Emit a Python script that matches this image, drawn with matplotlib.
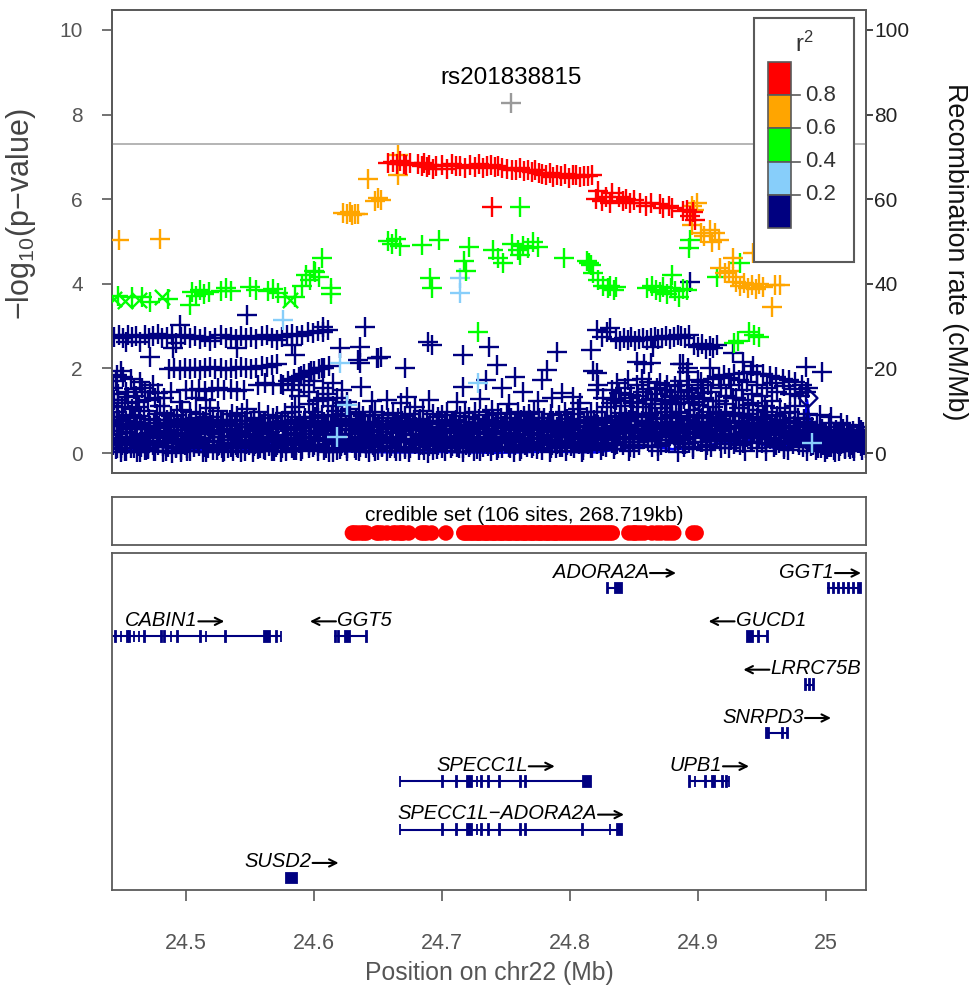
import matplotlib
matplotlib.use('Agg')
import matplotlib.pyplot as plt
from matplotlib.patches import Rectangle

plt.rcParams['font.family'] = ['Liberation Sans', 'DejaVu Sans']
plt.rcParams['mathtext.fontset'] = 'custom'
plt.rcParams['mathtext.rm'] = 'Liberation Sans'
plt.rcParams['mathtext.it'] = 'Liberation Sans:italic'

# ---------------- data ----------------
XLIM = (24.4422, 25.0312)
top_snp = ('rs201838815', 24.754, 8.27)
sig_line = 7.3

red_pts = [
    (24.658, 6.85), (24.662, 6.88), (24.665, 6.82), (24.667, 6.90), (24.670, 6.84), (24.672, 6.80), (24.675, 6.86),
    (24.681, 6.82), (24.684, 6.78), (24.686, 6.85), (24.688, 6.75), (24.690, 6.80), (24.693, 6.72), (24.695, 6.78),
    (24.700, 6.80), (24.704, 6.72), (24.708, 6.84), (24.711, 6.78),
    (24.714, 6.78), (24.718, 6.74), (24.722, 6.80), (24.726, 6.76), (24.729, 6.82), (24.732, 6.74), (24.735, 6.78),
    (24.738, 6.80), (24.741, 6.76), (24.744, 6.79), (24.747, 6.74),
    (24.751, 6.72), (24.755, 6.70), (24.758, 6.68), (24.761, 6.74), (24.764, 6.66), (24.767, 6.70), (24.770, 6.64),
    (24.773, 6.68), (24.776, 6.62),
    (24.778, 6.60), (24.781, 6.56), (24.784, 6.62), (24.787, 6.52), (24.790, 6.58), (24.793, 6.55), (24.796, 6.60),
    (24.799, 6.50), (24.802, 6.56), (24.805, 6.58), (24.808, 6.52), (24.811, 6.55), (24.814, 6.54), (24.817, 6.56),
    (24.739, 5.82),
    (24.820, 6.00), (24.822, 6.20), (24.825, 5.95), (24.828, 6.05), (24.831, 5.90), (24.833, 6.15),
    (24.838, 6.05), (24.841, 5.95), (24.844, 6.00), (24.847, 5.90), (24.850, 5.98),
    (24.855, 5.90), (24.859, 5.85), (24.863, 5.92),
    (24.870, 5.88), (24.873, 5.78), (24.877, 5.84), (24.880, 5.80),
    (24.888, 5.72), (24.891, 5.75), (24.894, 5.60), (24.896, 5.70), (24.898, 5.50),
]

orange_pts = [
    (24.448, 5.04), (24.480, 5.06), (24.623, 5.68), (24.626, 5.65), (24.628, 5.70), (24.630, 5.62),
    (24.632, 5.66), (24.634, 5.64), (24.642, 6.48), (24.648, 5.96), (24.652, 5.98), (24.650, 6.02),
    (24.666, 7.04), (24.666, 6.57), (24.895, 5.85), (24.897, 5.75), (24.899, 5.92), (24.895, 5.39),
    (24.902, 5.20), (24.905, 5.13), (24.909, 5.27), (24.913, 5.20), (24.916, 5.04), (24.911, 4.99),
    (24.927, 4.61), (24.943, 4.73), (24.917, 4.37), (24.921, 4.25), (24.924, 4.30), (24.927, 4.16),
    (24.930, 4.05), (24.933, 3.95), (24.936, 4.02), (24.939, 3.90), (24.942, 3.98), (24.945, 3.88),
    (24.948, 4.00), (24.951, 3.92), (24.960, 3.97), (24.964, 3.97), (24.958, 3.45),
]

green_pts = [
    (24.447, 3.72), (24.458, 3.68), (24.466, 3.70), (24.472, 3.58), (24.486, 3.64),
    (24.503, 3.50), (24.505, 3.80), (24.508, 3.72), (24.511, 3.85), (24.514, 3.76), (24.518, 3.80),
    (24.527, 3.82), (24.531, 3.90), (24.535, 3.84), (24.550, 3.92), (24.555, 3.86),
    (24.564, 3.82), (24.568, 3.88), (24.572, 3.78), (24.577, 3.68), (24.585, 3.70),
    (24.591, 3.95), (24.594, 4.20), (24.597, 4.10), (24.600, 4.30), (24.601, 4.28), (24.604, 4.15),
    (24.606, 4.60), (24.613, 3.90), (24.613, 3.75),
    (24.658, 5.02), (24.661, 4.95), (24.664, 5.05), (24.667, 4.90), (24.684, 4.92), (24.698, 5.04),
    (24.691, 4.14), (24.692, 3.90), (24.721, 4.87), (24.717, 4.55), (24.719, 4.30),
    (24.740, 4.80), (24.744, 4.60), (24.748, 4.50),
    (24.755, 4.95), (24.759, 4.80), (24.763, 4.90), (24.767, 4.85), (24.771, 5.00), (24.775, 4.88),
    (24.761, 5.82), (24.761, 4.68), (24.795, 4.60), (24.813, 4.55), (24.816, 4.45), (24.815, 4.50),
    (24.818, 4.25), (24.822, 4.10), (24.826, 3.95), (24.830, 3.90),
    (24.831, 3.95), (24.834, 3.85), (24.836, 3.92),
    (24.860, 3.90), (24.864, 3.95), (24.867, 3.85), (24.870, 3.80), (24.873, 3.92), (24.876, 3.75),
    (24.879, 3.90), (24.882, 3.82), (24.885, 3.70), (24.888, 3.88), (24.891, 3.85), (24.880, 4.20),
    (24.894, 5.03), (24.893, 4.85), (24.933, 4.50), (24.915, 4.15),
    (24.928, 2.60), (24.931, 2.65), (24.940, 2.85), (24.944, 2.80), (24.948, 2.75), (24.728, 2.86),
]
green_x_pts = [(24.444, 3.65), (24.452, 3.60), (24.463, 3.62), (24.481, 3.70), (24.581, 3.62)]

lblue_pts = [(24.714, 4.14), (24.714, 3.78), (24.576, 3.15), (24.620, 2.13), (24.626, 1.13),
             (24.618, 0.38), (24.728, 1.65), (24.989, 0.24)]

# navy, r2 < 0.2 : bands and scattered SNPs above the dense floor
navy_band_pos = [24.444, 24.448, 24.451, 24.455, 24.458, 24.461, 24.464, 24.468, 24.471, 24.474,
                 24.478, 24.481, 24.485, 24.489, 24.492, 24.496, 24.499, 24.503, 24.507, 24.511,
                 24.515, 24.519, 24.523, 24.527, 24.531, 24.535, 24.539, 24.543, 24.547, 24.551,
                 24.555, 24.559, 24.563, 24.567, 24.571, 24.575, 24.579, 24.583, 24.587, 24.591,
                 24.595, 24.599, 24.603, 24.607, 24.611,
                 24.487, 24.491, 24.495, 24.499, 24.503, 24.507, 24.511, 24.515, 24.519, 24.523,
                 24.527, 24.531, 24.535, 24.539, 24.543, 24.547, 24.551, 24.555, 24.559, 24.563,
                 24.567, 24.571,
                 24.576, 24.580, 24.584, 24.588, 24.590, 24.592, 24.596, 24.598, 24.600, 24.604,
                 24.606, 24.608, 24.612,
                 24.500, 24.505, 24.510, 24.515, 24.520, 24.525, 24.530, 24.535, 24.540, 24.545,
                 24.556, 24.562, 24.568, 24.574,
                 24.836, 24.839, 24.842, 24.845, 24.848, 24.851, 24.854, 24.857, 24.860, 24.863,
                 24.866, 24.869, 24.872, 24.875, 24.878, 24.881, 24.884, 24.887, 24.890, 24.893,
                 24.897, 24.900, 24.903, 24.906, 24.909, 24.912, 24.915,
                 24.941, 24.946, 24.951, 24.956, 24.961, 24.966, 24.971, 24.976, 24.981, 24.986]
navy_band_logp = [2.75, 2.78, 2.72, 2.80, 2.74, 2.77, 2.62, 2.79, 2.73, 2.76,
                  2.81, 2.71, 2.75, 2.78, 2.60, 2.74, 2.79, 2.72, 2.76, 2.70,
                  2.75, 2.66, 2.73, 2.78, 2.71, 2.74, 2.69, 2.77, 2.72, 2.75,
                  2.70, 2.76, 2.80, 2.73, 2.68, 2.74, 2.78, 2.82, 2.76, 2.80,
                  2.85, 2.83, 2.88, 2.86, 2.90,
                  1.98, 2.00, 1.97, 2.02, 1.99, 2.01, 1.96, 2.00, 2.03, 1.98,
                  2.00, 1.97, 2.01, 1.99, 2.04, 2.00, 1.98, 2.02, 2.05, 2.03,
                  2.08, 2.10,
                  1.62, 1.70, 1.75, 1.80, 1.82, 1.86, 1.90, 1.93, 1.95, 1.98,
                  2.00, 2.00, 2.05,
                  1.50, 1.48, 1.52, 1.47, 1.50, 1.53, 1.49, 1.51, 1.46, 1.50,
                  1.62, 1.66, 1.60, 1.64,
                  2.70, 2.65, 2.72, 2.68, 2.74, 2.66, 2.70, 2.73, 2.68, 2.71,
                  2.75, 2.69, 2.72, 2.77, 2.70, 2.74, 2.80, 2.76, 2.72, 2.78,
                  2.55, 2.50, 2.58, 2.45, 2.52, 2.48, 2.55,
                  1.92, 1.88, 1.86, 1.82, 1.80, 1.76, 1.72, 1.68, 1.62, 1.55]

navy_scatter_pts = [
    (24.548, 3.26), (24.495, 3.03), (24.607, 2.98), (24.472, 2.27), (24.490, 2.48), (24.540, 2.48),
    (24.585, 2.32), (24.583, 2.55), (24.453, 2.62),
    (24.640, 2.98), (24.649, 2.24), (24.652, 2.26), (24.671, 2.00), (24.689, 2.62), (24.692, 2.55),
    (24.716, 2.32), (24.716, 1.56), (24.737, 2.50), (24.743, 2.08), (24.734, 1.73), (24.757, 1.80),
    (24.747, 1.54), (24.778, 1.73), (24.782, 1.96), (24.790, 2.39), (24.763, 1.44), (24.794, 1.42),
    (24.816, 2.43), (24.821, 2.90), (24.825, 2.75), (24.829, 2.85), (24.821, 1.90), (24.821, 1.50),
    (24.620, 2.48), (24.634, 2.20), (24.636, 2.50), (24.673, 1.33), (24.650, 2.25), (24.636, 2.12),
    (24.637, 1.56), (24.657, 1.25), (24.802, 1.33), (24.818, 1.95), (24.822, 1.60), (24.826, 1.30),
    (24.831, 2.95), (24.865, 2.50), (24.852, 2.15), (24.858, 2.10), (24.863, 2.12), (24.886, 2.10),
    (24.892, 2.00), (24.909, 2.00), (24.900, 1.73), (24.927, 2.36), (24.935, 2.15), (24.943, 2.05),
    (24.984, 2.04), (24.997, 1.92), (24.995, 0.90), (24.894, 4.04), (24.891, 1.92), (24.888, 2.10),
    (24.446, 1.85), (24.451, 1.80), (24.464, 1.68), (24.459, 1.52), (24.447, 1.40), (24.455, 1.32),
    (24.468, 1.45), (24.472, 1.44), (24.444, 1.25), (24.462, 1.20), (24.476, 1.30), (24.450, 1.10),
    (24.480, 1.12), (24.495, 1.20), (24.519, 1.06), (24.508, 1.30), (24.516, 1.25),
    (24.583, 1.50), (24.588, 1.35), (24.592, 1.60), (24.596, 1.45), (24.600, 1.70), (24.603, 1.25),
    (24.607, 1.55), (24.611, 1.40), (24.615, 1.65), (24.618, 1.30), (24.622, 1.50), (24.626, 1.20),
    (24.833, 1.50), (24.838, 1.42), (24.843, 1.55), (24.848, 1.38), (24.852, 1.60), (24.857, 1.45),
    (24.861, 1.52), (24.866, 1.40), (24.870, 1.65), (24.874, 1.48), (24.878, 1.35), (24.882, 1.58),
    (24.887, 1.44), (24.891, 1.50), (24.895, 1.36), (24.900, 1.55), (24.904, 1.42), (24.908, 1.62),
    (24.912, 1.75), (24.916, 1.80), (24.920, 1.85), (24.924, 1.78), (24.928, 1.88), (24.932, 1.72),
    (24.936, 1.90), (24.645, 1.22), (24.668, 1.18), (24.690, 1.25), (24.712, 1.20), (24.730, 1.28),
    (24.752, 1.15), (24.775, 1.22), (24.786, 1.30), (24.808, 1.18), (25.004, 0.85), (25.012, 0.70),
    (24.834, 1.28), (24.837, 1.65), (24.840, 1.22), (24.845, 1.72), (24.849, 1.18), (24.853, 1.35),
    (24.856, 1.75), (24.859, 1.25), (24.862, 1.68), (24.864, 1.15), (24.868, 1.55), (24.872, 1.25),
    (24.876, 1.62), (24.880, 1.20), (24.884, 1.45), (24.886, 1.70), (24.889, 1.28), (24.893, 1.62),
    (24.897, 1.20), (24.902, 1.68), (24.905, 1.30), (24.910, 1.45), (24.914, 1.22), (24.918, 1.55),
    (24.922, 1.35), (24.926, 1.60), (24.930, 1.30), (24.934, 1.50), (24.938, 1.68), (24.942, 1.40),
    (24.946, 1.62), (24.950, 1.35), (24.954, 1.55), (24.958, 1.65), (24.962, 1.45), (24.967, 1.58),
    (24.972, 1.40), (24.976, 1.52), (24.980, 1.35), (24.984, 1.45),
    (24.443, 1.55), (24.445, 1.70), (24.449, 1.95), (24.453, 1.45), (24.457, 1.75), (24.461, 1.35),
    (24.466, 1.55), (24.470, 1.25), (24.474, 1.60), (24.478, 1.42), (24.483, 1.30), (24.488, 1.45),
]
navy_diamond_pts = [(24.899, 1.25), (24.986, 1.30), (25.023, 0.42)]

# dense floor of weakly associated SNPs (two SNPs per listed kb position)
navy_low_pos = [
    24.442, 24.443, 24.444, 24.445, 24.446, 24.446, 24.447, 24.448, 24.449, 24.449,
    24.450, 24.451, 24.452, 24.453, 24.453, 24.454, 24.456, 24.457, 24.458, 24.459,
    24.460, 24.461, 24.462, 24.463, 24.464, 24.465, 24.466, 24.467, 24.468, 24.469,
    24.470, 24.471, 24.471, 24.472, 24.474, 24.475, 24.476, 24.477, 24.478, 24.479,
    24.480, 24.482, 24.483, 24.484, 24.485, 24.485, 24.486, 24.487, 24.488, 24.489,
    24.490, 24.491, 24.492, 24.493, 24.494, 24.496, 24.496, 24.497, 24.498, 24.499,
    24.500, 24.501, 24.502, 24.503, 24.503, 24.504, 24.506, 24.507, 24.508, 24.509,
    24.510, 24.511, 24.512, 24.513, 24.514, 24.515, 24.516, 24.517, 24.518, 24.519,
    24.520, 24.521, 24.521, 24.522, 24.524, 24.525, 24.526, 24.527, 24.528, 24.529,
    24.530, 24.532, 24.533, 24.534, 24.535, 24.535, 24.536, 24.537, 24.538, 24.539,
    24.540, 24.541, 24.542, 24.543, 24.544, 24.546, 24.546, 24.547, 24.548, 24.549,
    24.550, 24.551, 24.552, 24.553, 24.553, 24.554, 24.556, 24.557, 24.558, 24.559,
    24.560, 24.561, 24.562, 24.563, 24.564, 24.565, 24.566, 24.567, 24.568, 24.569,
    24.570, 24.571, 24.571, 24.572, 24.574, 24.575, 24.576, 24.577, 24.578, 24.579,
    24.580, 24.582, 24.583, 24.584, 24.585, 24.585, 24.586, 24.587, 24.588, 24.589,
    24.590, 24.591, 24.592, 24.593, 24.594, 24.596, 24.596, 24.597, 24.598, 24.599,
    24.600, 24.601, 24.602, 24.603, 24.603, 24.604, 24.606, 24.607, 24.608, 24.609,
    24.610, 24.611, 24.612, 24.613, 24.614, 24.615, 24.616, 24.617, 24.618, 24.619,
    24.620, 24.621, 24.621, 24.622, 24.624, 24.625, 24.626, 24.627, 24.628, 24.629,
    24.630, 24.632, 24.633, 24.634, 24.635, 24.635, 24.636, 24.637, 24.638, 24.639,
    24.640, 24.641, 24.642, 24.643, 24.644, 24.646, 24.646, 24.647, 24.648, 24.649,
    24.650, 24.651, 24.652, 24.653, 24.653, 24.654, 24.656, 24.657, 24.658, 24.659,
    24.660, 24.661, 24.662, 24.663, 24.664, 24.665, 24.666, 24.667, 24.668, 24.669,
    24.670, 24.671, 24.671, 24.672, 24.674, 24.675, 24.676, 24.677, 24.678, 24.679,
    24.680, 24.682, 24.683, 24.684, 24.685, 24.685, 24.686, 24.687, 24.688, 24.689,
    24.690, 24.691, 24.692, 24.693, 24.694, 24.696, 24.696, 24.697, 24.698, 24.699,
    24.700, 24.701, 24.702, 24.703, 24.703, 24.704, 24.706, 24.707, 24.708, 24.709,
    24.710, 24.711, 24.712, 24.713, 24.714, 24.715, 24.716, 24.717, 24.718, 24.719,
    24.720, 24.721, 24.721, 24.722, 24.724, 24.725, 24.726, 24.727, 24.728, 24.729,
    24.730, 24.732, 24.733, 24.734, 24.735, 24.735, 24.736, 24.737, 24.738, 24.739,
    24.740, 24.741, 24.742, 24.743, 24.744, 24.746, 24.746, 24.747, 24.748, 24.749,
    24.750, 24.751, 24.752, 24.753, 24.753, 24.754, 24.756, 24.757, 24.758, 24.759,
    24.760, 24.761, 24.762, 24.763, 24.764, 24.765, 24.766, 24.767, 24.768, 24.769,
    24.770, 24.771, 24.771, 24.772, 24.774, 24.775, 24.776, 24.777, 24.778, 24.779,
    24.780, 24.782, 24.783, 24.784, 24.785, 24.785, 24.786, 24.787, 24.788, 24.789,
    24.790, 24.791, 24.792, 24.793, 24.794, 24.796, 24.796, 24.797, 24.798, 24.799,
    24.800, 24.801, 24.802, 24.803, 24.803, 24.804, 24.806, 24.807, 24.808, 24.809,
    24.810, 24.811, 24.812, 24.813, 24.814, 24.815, 24.816, 24.817, 24.818, 24.819,
    24.820, 24.821, 24.821, 24.822, 24.824, 24.825, 24.826, 24.827, 24.828, 24.829,
    24.830, 24.832, 24.833, 24.834, 24.835, 24.835, 24.836, 24.837, 24.838, 24.839,
    24.840, 24.841, 24.842, 24.843, 24.844, 24.846, 24.846, 24.847, 24.848, 24.849,
    24.850, 24.851, 24.852, 24.853, 24.853, 24.854, 24.856, 24.857, 24.858, 24.859,
    24.860, 24.861, 24.862, 24.863, 24.864, 24.865, 24.866, 24.867, 24.868, 24.869,
    24.870, 24.871, 24.871, 24.872, 24.874, 24.875, 24.876, 24.877, 24.878, 24.879,
    24.880, 24.882, 24.883, 24.884, 24.885, 24.885, 24.886, 24.887, 24.888, 24.889,
    24.890, 24.891, 24.892, 24.893, 24.894, 24.896, 24.896, 24.897, 24.898, 24.899,
    24.900, 24.901, 24.902, 24.903, 24.903, 24.904, 24.906, 24.907, 24.908, 24.909,
    24.910, 24.911, 24.912, 24.913, 24.914, 24.915, 24.916, 24.917, 24.918, 24.919,
    24.920, 24.921, 24.921, 24.922, 24.924, 24.925, 24.926, 24.927, 24.928, 24.929,
    24.930, 24.932, 24.933, 24.934, 24.935, 24.935, 24.936, 24.937, 24.938, 24.939,
    24.940, 24.941, 24.942, 24.943, 24.944, 24.946, 24.946, 24.947, 24.948, 24.949,
    24.950, 24.951, 24.952, 24.953, 24.953, 24.954, 24.956, 24.957, 24.958, 24.959,
    24.960, 24.961, 24.962, 24.963, 24.964, 24.965, 24.966, 24.967, 24.968, 24.969,
    24.970, 24.971, 24.971, 24.972, 24.974, 24.975, 24.976, 24.977, 24.978, 24.979,
    24.980, 24.982, 24.983, 24.984, 24.985, 24.985, 24.986, 24.987, 24.988, 24.989,
    24.990, 24.991, 24.992, 24.993, 24.994, 24.996, 24.996, 24.997, 24.998, 24.999,
    25.000, 25.001, 25.002, 25.003, 25.003, 25.004, 25.006, 25.007, 25.008, 25.009,
    25.010, 25.011, 25.012, 25.013, 25.014, 25.015, 25.016, 25.017, 25.018, 25.019,
    25.020, 25.021, 25.021, 25.022, 25.024, 25.025, 25.026, 25.027, 25.028, 25.029,
    25.030, 25.031,
]
navy_low_logp = [
    0.42, 1.12, 0.77, 0.25, 0.96, 0.13, 1.25, 0.34, 0.03, 0.69,
    0.19, 0.85, 1.18, 0.62, 0.05, 0.47, 0.91, 0.22, 1.05, 0.11,
    0.66, 0.27, 0.02, 1.10, 0.88, 0.15, 0.39, 0.99, 0.07, 0.45,
    0.09, 0.57, 0.81, 0.36, 0.18, 0.72, 0.04, 0.93, 0.29, 0.63,
    0.51, 0.16, 0.94, 0.06, 0.38, 0.79, 0.24, 0.61, 0.87, 0.01,
    0.33, 0.71, 0.12, 0.89, 0.47, 0.02, 0.64, 1.02, 0.21, 0.55,
    0.78, 0.05, 0.43, 0.97, 0.26, 0.68, 0.14, 0.52, 0.83, 0.31,
    0.17, 0.92, 0.58, 0.03, 0.74, 0.35, 0.86, 0.11, 0.49, 0.64,
    0.61, 0.28, 0.85, 0.44, 0.07, 0.99, 0.19, 0.73, 0.38, 0.02,
    0.04, 0.66, 0.31, 0.79, 0.15, 0.54, 0.92, 0.23, 0.69, 0.41,
    0.87, 0.12, 0.48, 0.25, 0.95, 0.06, 0.62, 0.37, 1.04, 0.18,
    0.29, 0.76, 0.03, 0.58, 0.84, 0.21, 0.45, 0.97, 0.11, 0.67,
    0.53, 0.09, 0.72, 0.36, 0.91, 0.16, 0.63, 0.05, 0.82, 0.27,
    0.14, 0.88, 0.41, 0.67, 0.02, 0.77, 0.32, 0.94, 0.22, 0.56,
    0.71, 0.24, 0.96, 0.08, 1.08, 0.47, 0.19, 0.61, 0.85, 0.35,
    0.06, 0.59, 0.28, 0.83, 0.44, 1.15, 0.13, 0.74, 0.39, 0.97,
    0.19, 0.85, 1.22, 0.62, 0.05, 0.47, 0.91, 1.30, 0.74, 0.11,
    0.66, 1.25, 0.02, 0.53, 0.88, 1.12, 0.39, 0.99, 0.07, 0.45,
    0.09, 0.57, 0.81, 1.18, 0.18, 0.72, 0.04, 0.93, 1.05, 0.63,
    0.45, 0.12, 0.78, 0.31, 0.96, 0.05, 0.62, 0.24, 0.87, 0.38,
    0.73, 0.21, 0.54, 0.02, 0.89, 0.36, 0.67, 0.14, 0.98, 0.43,
    0.08, 0.64, 0.33, 0.91, 0.17, 0.75, 0.49, 0.04, 0.82, 0.27,
    0.58, 0.23, 0.95, 0.11, 0.69, 0.38, 0.84, 0.06, 0.52, 0.76,
    0.31, 0.87, 0.14, 0.66, 0.03, 0.92, 0.42, 0.71, 0.25, 1.08,
    0.62, 0.07, 0.81, 0.35, 0.99, 0.18, 0.55, 0.29, 0.77, 0.01,
    0.16, 0.72, 0.44, 0.93, 0.26, 0.61, 0.09, 0.85, 0.37, 0.57,
    0.89, 0.34, 0.05, 0.67, 0.21, 0.96, 0.47, 0.13, 0.74, 0.39,
    0.27, 0.79, 0.52, 0.12, 0.88, 0.41, 0.02, 0.65, 0.94, 0.19,
    0.53, 0.15, 0.86, 0.38, 0.71, 0.06, 0.97, 0.28, 0.59, 0.81,
    0.04, 0.68, 0.24, 0.91, 0.45, 0.78, 0.17, 0.56, 0.33, 1.02,
    0.76, 0.29, 0.63, 0.08, 0.95, 0.35, 0.82, 0.11, 0.48, 0.69,
    0.37, 0.92, 0.14, 0.57, 0.26, 0.84, 0.03, 0.73, 0.44, 0.98,
    0.61, 0.05, 0.79, 0.32, 0.87, 0.19, 0.66, 0.42, 0.93, 0.24,
    0.13, 0.74, 0.46, 0.97, 0.09, 0.58, 0.83, 0.27, 0.69, 0.36,
    0.84, 0.31, 0.67, 0.02, 0.55, 0.92, 0.18, 0.77, 0.43, 0.11,
    0.22, 0.89, 0.39, 0.71, 0.14, 0.96, 0.51, 0.06, 0.81, 0.64,
    0.57, 0.16, 0.93, 0.45, 0.78, 0.27, 1.05, 0.34, 0.62, 0.03,
    0.08, 0.71, 0.35, 0.86, 0.22, 0.64, 0.97, 0.13, 0.49, 0.79,
    0.69, 0.25, 0.98, 0.41, 0.07, 0.83, 0.33, 0.74, 0.15, 1.10,
    0.31, 1.18, 0.62, 0.09, 0.87, 0.44, 1.26, 0.21, 0.73, 0.52,
    0.94, 0.18, 0.56, 1.12, 0.35, 0.79, 0.04, 1.31, 0.67, 0.26,
    0.12, 0.75, 1.21, 0.48, 0.93, 0.27, 0.64, 1.08, 0.36, 0.85,
    0.66, 0.29, 0.91, 1.28, 0.14, 0.57, 1.15, 0.42, 0.83, 0.05,
    0.38, 1.06, 0.19, 0.72, 1.24, 0.51, 0.97, 0.23, 0.61, 1.33,
    0.85, 0.41, 1.17, 0.03, 0.68, 0.95, 0.32, 1.27, 0.56, 0.14,
    0.21, 0.79, 0.47, 1.19, 0.88, 0.09, 0.63, 1.02, 0.35, 0.74,
    0.58, 1.13, 0.26, 0.84, 0.42, 1.29, 0.07, 0.69, 0.97, 0.31,
    0.15, 0.72, 1.09, 0.37, 0.93, 0.54, 1.22, 0.28, 0.81, 0.46,
    0.77, 0.34, 0.96, 1.16, 0.11, 0.65, 0.43, 1.31, 0.22, 0.89,
    0.44, 1.07, 0.18, 0.71, 1.25, 0.36, 0.92, 0.05, 0.59, 1.14,
    0.92, 0.27, 0.65, 1.19, 0.48, 0.83, 0.13, 1.02, 0.39, 0.71,
    0.23, 0.86, 1.11, 0.52, 0.04, 0.97, 0.34, 0.68, 1.24, 0.15,
    0.61, 0.19, 0.88, 0.42, 1.06, 0.29, 0.75, 0.09, 0.94, 0.53,
    0.08, 0.73, 0.37, 0.96, 0.21, 0.64, 1.12, 0.46, 0.82, 0.31,
    0.55, 0.14, 0.81, 0.33, 0.69, 0.06, 0.92, 0.27, 0.47, 0.62,
    0.18, 0.52, 0.07, 0.66, 0.29, 0.43, 0.11, 0.58, 0.36, 0.02,
    0.41, 0.09, 0.62, 0.25, 0.71, 0.14, 0.48, 0.03, 0.55, 0.32,
    0.06, 0.47, 0.21, 0.58, 0.34, 0.12, 0.66, 0.27, 0.44, 0.09,
    0.38, 0.13, 0.53, 0.05, 0.44, 0.24, 0.61, 0.17, 0.31, 0.49,
    0.28, 0.11,
]
navy_low2_logp = [
    0.52, 0.18, 0.71, 0.09, 0.44, 0.63, 0.27, 0.79, 0.35, 0.12,
    0.28, 0.66, 0.04, 0.49, 0.75, 0.21, 0.58, 0.13, 0.39, 0.82,
    0.73, 0.31, 0.56, 0.16, 0.02, 0.68, 0.43, 0.24, 0.61, 0.08,
    0.11, 0.47, 0.25, 0.64, 0.37, 0.06, 0.78, 0.53, 0.19, 0.42,
    0.59, 0.03, 0.36, 0.72, 0.23, 0.51, 0.14, 0.67, 0.46, 0.29,
    0.34, 0.77, 0.15, 0.41, 0.62, 0.26, 0.07, 0.55, 0.81, 0.18,
    0.48, 0.12, 0.69, 0.33, 0.05, 0.74, 0.22, 0.57, 0.38, 0.65,
    0.21, 0.59, 0.36, 0.76, 0.14, 0.45, 0.02, 0.63, 0.29, 0.52,
    0.66, 0.08, 0.47, 0.27, 0.71, 0.17, 0.54, 0.39, 0.11, 0.78,
    0.37, 0.73, 0.13, 0.56, 0.24, 0.64, 0.41, 0.06, 0.49, 0.19,
    0.14, 0.45, 0.68, 0.03, 0.52, 0.31, 0.77, 0.22, 0.61, 0.43,
    0.62, 0.25, 0.41, 0.79, 0.16, 0.57, 0.09, 0.34, 0.72, 0.48,
    0.39, 0.71, 0.08, 0.46, 0.27, 0.65, 0.51, 0.18, 0.59, 0.04,
    0.57, 0.19, 0.63, 0.32, 0.74, 0.11, 0.42, 0.68, 0.06, 0.36,
    0.26, 0.62, 0.13, 0.54, 0.35, 0.79, 0.07, 0.47, 0.23, 0.69,
    0.44, 0.09, 0.72, 0.28, 0.61, 0.18, 0.53, 0.36, 0.76, 0.15,
    0.63, 0.35, 0.52, 0.17, 0.83, 0.29, 0.68, 0.42, 0.07, 0.58,
    0.31, 0.74, 0.22, 0.61, 0.45, 0.03, 0.72, 0.26, 0.55, 0.87,
    0.54, 0.16, 0.67, 0.43, 0.29, 0.81, 0.12, 0.58, 0.34, 0.76,
    0.23, 0.55, 0.08, 0.66, 0.37, 0.49, 0.14, 0.71, 0.28, 0.57,
    0.46, 0.11, 0.64, 0.27, 0.53, 0.72, 0.19, 0.41, 0.06, 0.62,
    0.68, 0.32, 0.51, 0.14, 0.75, 0.24, 0.58, 0.39, 0.66, 0.12,
    0.17, 0.61, 0.36, 0.73, 0.05, 0.48, 0.27, 0.64, 0.33, 0.52,
    0.55, 0.09, 0.42, 0.26, 0.69, 0.13, 0.57, 0.44, 0.78, 0.21,
    0.33, 0.74, 0.18, 0.59, 0.41, 0.65, 0.08, 0.52, 0.29, 0.47,
    0.61, 0.25, 0.53, 0.07, 0.36, 0.77, 0.43, 0.19, 0.68, 0.31,
    0.12, 0.57, 0.71, 0.39, 0.54, 0.22, 0.64, 0.35, 0.16, 0.73,
    0.49, 0.33, 0.15, 0.62, 0.26, 0.58, 0.11, 0.74, 0.42, 0.67,
    0.27, 0.64, 0.45, 0.18, 0.56, 0.34, 0.72, 0.09, 0.51, 0.23,
    0.58, 0.14, 0.69, 0.48, 0.21, 0.63, 0.37, 0.76, 0.05, 0.44,
    0.19, 0.52, 0.37, 0.71, 0.13, 0.46, 0.59, 0.28, 0.65, 0.39,
    0.66, 0.23, 0.48, 0.11, 0.74, 0.32, 0.55, 0.18, 0.41, 0.62,
    0.35, 0.71, 0.09, 0.53, 0.27, 0.68, 0.14, 0.57, 0.36, 0.78,
    0.47, 0.16, 0.63, 0.34, 0.55, 0.21, 0.72, 0.43, 0.07, 0.59,
    0.24, 0.58, 0.39, 0.75, 0.12, 0.49, 0.31, 0.64, 0.26, 0.53,
    0.61, 0.37, 0.14, 0.52, 0.68, 0.28, 0.45, 0.73, 0.19, 0.42,
    0.38, 0.69, 0.26, 0.13, 0.54, 0.47, 0.62, 0.22, 0.77, 0.33,
    0.15, 0.47, 0.61, 0.29, 0.72, 0.38, 0.11, 0.56, 0.44, 0.67,
    0.53, 0.22, 0.44, 0.66, 0.31, 0.59, 0.17, 0.48, 0.71, 0.36,
    0.42, 0.78, 0.23, 0.55, 0.64, 0.18, 0.73, 0.39, 0.52, 0.86,
    0.69, 0.34, 0.58, 0.26, 0.82, 0.47, 0.61, 0.14, 0.92, 0.38,
    0.27, 0.63, 0.88, 0.41, 0.56, 0.19, 0.77, 0.52, 0.33, 0.69,
    0.58, 0.45, 0.73, 0.95, 0.28, 0.62, 0.37, 0.81, 0.49, 0.16,
    0.46, 0.84, 0.31, 0.57, 0.71, 0.25, 0.66, 0.42, 0.89, 0.53,
    0.74, 0.29, 0.62, 0.48, 0.83, 0.36, 0.55, 0.97, 0.21, 0.67,
    0.33, 0.58, 0.79, 0.24, 0.51, 0.68, 0.15, 0.86, 0.44, 0.61,
    0.62, 0.91, 0.38, 0.55, 0.27, 0.74, 0.49, 0.18, 0.65, 0.83,
    0.41, 0.66, 0.85, 0.29, 0.57, 0.35, 0.78, 0.52, 0.13, 0.69,
    0.56, 0.22, 0.71, 0.88, 0.46, 0.61, 0.31, 0.94, 0.38, 0.74,
    0.29, 0.77, 0.43, 0.59, 0.87, 0.24, 0.66, 0.51, 0.37, 0.82,
    0.71, 0.48, 0.26, 0.84, 0.58, 0.69, 0.35, 0.78, 0.53, 0.42,
    0.39, 0.64, 0.81, 0.33, 0.21, 0.73, 0.56, 0.47, 0.89, 0.28,
    0.48, 0.36, 0.67, 0.25, 0.79, 0.51, 0.62, 0.14, 0.72, 0.44,
    0.26, 0.59, 0.43, 0.71, 0.34, 0.47, 0.82, 0.61, 0.53, 0.18,
    0.42, 0.27, 0.63, 0.49, 0.55, 0.21, 0.74, 0.38, 0.16, 0.57,
    0.33, 0.45, 0.22, 0.54, 0.12, 0.39, 0.27, 0.48, 0.19, 0.35,
    0.24, 0.38, 0.15, 0.47, 0.29, 0.52, 0.08, 0.36, 0.44, 0.21,
    0.31, 0.17, 0.42, 0.26, 0.51, 0.09, 0.33, 0.45, 0.14, 0.38,
    0.18, 0.29, 0.46, 0.12, 0.36, 0.41, 0.23, 0.55, 0.07, 0.33,
    0.19, 0.41,
]

recomb_pos = [24.442, 24.46, 24.48, 24.50, 24.52, 24.54, 24.56, 24.58, 24.60, 24.62, 24.64, 24.66,
              24.68, 24.70, 24.72, 24.74, 24.76, 24.78, 24.80, 24.82, 24.84, 24.86, 24.88, 24.90,
              24.92, 24.94, 24.96, 24.975, 24.983, 24.985, 24.987, 24.99, 24.995, 25.0, 25.01,
              25.02, 25.031]
recomb_rate = [1.2, 0.8, 1.5, 0.6, 1.0, 0.4, 2.1, 3.5, 1.1, 0.5, 0.3, 0.2, 0.2, 0.3, 0.2, 0.1, 0.2,
               0.4, 0.3, 0.2, 1.0, 1.8, 0.9, 1.4, 2.5, 3.0, 1.2, 2.0, 2.5, 12.5, 8.0, 3.0, 1.5, 2.5,
               4.0, 0.8, 0.7]

credible_title = 'credible set (106 sites, 268.719kb)'
credible_pos = [
    24.630, 24.6315, 24.634, 24.637, 24.639, 24.641, 24.649, 24.6505, 24.653, 24.657, 24.662, 24.664,
    24.667, 24.6685, 24.670, 24.674, 24.684, 24.686, 24.688, 24.692, 24.703, 24.717, 24.7185, 24.720,
    24.722, 24.7235, 24.725, 24.727, 24.7285, 24.729, 24.731, 24.733, 24.7345, 24.735, 24.737, 24.739,
    24.7405, 24.741, 24.743, 24.745, 24.7465, 24.747, 24.749, 24.751, 24.7525, 24.753, 24.755, 24.757,
    24.7585, 24.759, 24.761, 24.763, 24.7645, 24.765, 24.767, 24.769, 24.7705, 24.771, 24.773, 24.775,
    24.7765, 24.777, 24.779, 24.781, 24.7825, 24.783, 24.785, 24.787, 24.7885, 24.789, 24.791, 24.793,
    24.795, 24.797, 24.799, 24.801, 24.803, 24.805, 24.807, 24.809, 24.811, 24.813, 24.815, 24.817,
    24.819, 24.821, 24.823, 24.825, 24.827, 24.829, 24.831, 24.833, 24.846, 24.849, 24.8505, 24.852,
    24.855, 24.858, 24.864, 24.868, 24.871, 24.875, 24.878, 24.881, 24.896, 24.8985,
]

gene_names = ['ADORA2A', 'GGT1', 'CABIN1', 'GGT5', 'GUCD1', 'LRRC75B', 'SNRPD3',
              'SPECC1L', 'UPB1', 'SPECC1L\u2212ADORA2A', 'SUSD2']
gene_start = [24.829, 25.001, 24.4076, 24.616, 24.938, 24.9835, 24.953, 24.667, 24.893, 24.667, 24.578]
gene_end = [24.8405, 25.027, 24.5745, 24.6415, 24.9545, 24.9905, 24.970, 24.8165, 24.9245, 24.8405, 24.587]
gene_strand = ['+', '+', '+', '-', '-', '-', '+', '+', '+', '+', '+']
gene_row = [1, 1, 2, 2, 2, 3, 4, 5, 5, 6, 7]
gene_exons = [
    [(24.829, 24.830), (24.8355, 24.8405)],
    [(25.0015, 25.002), (25.0055, 25.006), (25.0095, 25.010), (25.0135, 25.014), (25.0175, 25.018),
     (25.021, 25.0215), (25.025, 25.027)],
    [(24.4445, 24.445), (24.449, 24.4495), (24.454, 24.4545), (24.4555, 24.456), (24.459, 24.4595),
     (24.463, 24.4635), (24.4675, 24.468), (24.4805, 24.481), (24.483, 24.4835), (24.488, 24.4885),
     (24.493, 24.4935), (24.511, 24.5115), (24.5155, 24.516), (24.5305, 24.531), (24.561, 24.5655),
     (24.5705, 24.571), (24.574, 24.5745)],
    [(24.6165, 24.617), (24.619, 24.6195), (24.6245, 24.628), (24.641, 24.6415)],
    [(24.938, 24.943), (24.947, 24.9475), (24.954, 24.9545)],
    [(24.9835, 24.984), (24.987, 24.9875), (24.990, 24.9905)],
    [(24.953, 24.9535), (24.955, 24.9555), (24.9655, 24.966), (24.9695, 24.970)],
    [(24.667, 24.6675), (24.700, 24.7005), (24.711, 24.7115), (24.7195, 24.7235), (24.727, 24.7275),
     (24.7305, 24.731), (24.736, 24.7365), (24.7445, 24.745), (24.761, 24.7615), (24.765, 24.7655),
     (24.810, 24.8165)],
    [(24.893, 24.8935), (24.8975, 24.898), (24.9055, 24.906), (24.911, 24.9115), (24.9125, 24.913),
     (24.919, 24.9195), (24.922, 24.9225), (24.924, 24.9245)],
    [(24.667, 24.6675), (24.700, 24.7005), (24.711, 24.7115), (24.7195, 24.7235), (24.727, 24.7275),
     (24.7305, 24.731), (24.736, 24.7365), (24.7445, 24.745), (24.761, 24.7615), (24.765, 24.7655),
     (24.8095, 24.8105), (24.831, 24.8315), (24.8365, 24.8405)],
    [(24.578, 24.587)],
]

legend_colors = ['#FF0000', '#FFA500', '#00FF00', '#87CEFA', '#000080']
legend_labels = ['0.8', '0.6', '0.4', '0.2']
x_ticks = [24.5, 24.6, 24.7, 24.8, 24.9, 25.0]
x_ticklabels = ['24.5', '24.6', '24.7', '24.8', '24.9', '25']

# ---------------- styling ----------------
W, H = 973, 990
FRAME = '#5a5a5a'
TICKC = '#555555'
NAVY = '#000080'


def fx(px):
    return px / W


def fy(py):
    return 1 - py / H


fig = plt.figure(figsize=(W / 100, H / 100), dpi=100)

# ---- association panel ----
ax = fig.add_axes([fx(112), fy(473), fx(866) - fx(112), fy(10) - fy(473)])
ax2 = ax.twinx()
ax.set_zorder(ax2.get_zorder() + 1)
ax.patch.set_visible(False)

YLIM = (-0.47, 10.47)
ax.set_xlim(*XLIM)
ax.set_ylim(*YLIM)
ax2.set_ylim(YLIM[0] * 10, YLIM[1] * 10)

ax2.plot(recomb_pos, recomb_rate, color='#0000FF', lw=2.0, zorder=1)
ax.axhline(sig_line, color='#a8a8a8', lw=1.2, zorder=1)


def unzip(pts):
    return [p[0] for p in pts], [p[1] for p in pts]


MS = 200
LW = 1.7
navy_x = navy_low_pos + navy_low_pos + navy_band_pos + unzip(navy_scatter_pts)[0]
navy_y = navy_low_logp + navy_low2_logp + navy_band_logp + unzip(navy_scatter_pts)[1]
ax.scatter(navy_x, navy_y, marker='+', s=MS, c=NAVY, linewidths=LW, zorder=2)
dx, dy = unzip(navy_diamond_pts)
ax.scatter(dx, dy, marker='D', s=90, facecolors='none', edgecolors=NAVY, linewidths=LW, zorder=2)
x, y = unzip(lblue_pts)
ax.scatter(x, y, marker='+', s=MS, c='#87CEFA', linewidths=LW, zorder=3)
x, y = unzip(green_pts)
ax.scatter(x, y, marker='+', s=MS, c='#00FF00', linewidths=LW, zorder=4)
x, y = unzip(green_x_pts)
ax.scatter(x, y, marker='x', s=120, c='#00FF00', linewidths=LW, zorder=4)
x, y = unzip(orange_pts)
ax.scatter(x, y, marker='+', s=MS, c='#FFA500', linewidths=LW, zorder=5)
x, y = unzip(red_pts)
ax.scatter(x, y, marker='+', s=MS, c='#FF0000', linewidths=LW, zorder=6)
ax.scatter([top_snp[1]], [top_snp[2]], marker='+', s=MS, c='#9a9a9a', linewidths=LW, zorder=7)
ax.annotate(top_snp[0], (top_snp[1], top_snp[2]), xytext=(0, 25), textcoords='offset pixels',
            ha='center', va='center', fontsize=17.5, color='black', zorder=8)

ax.set_xticks([])
ax.set_yticks([0, 2, 4, 6, 8, 10])
ax.tick_params(axis='y', direction='out', length=7, width=1.2, color=FRAME,
               labelsize=15, labelcolor=TICKC, pad=14)
ax2.set_yticks([0, 20, 40, 60, 80, 100])
ax2.tick_params(axis='y', direction='out', length=5, width=1.2, color='#222222',
                labelsize=15, labelcolor='#222222', pad=1)
for a in (ax, ax2):
    for s in a.spines.values():
        s.set_color(FRAME)
        s.set_linewidth(1.3)

fig.text(fx(21), fy(214), '\u2212log$_{10}$(p\u2212value)', rotation=90, ha='center', va='center',
         fontsize=22, color='#444444')
fig.text(fx(955), fy(252), 'Recombination rate (cM/Mb)', rotation=270, ha='center', va='center',
         fontsize=19.3, color='#111111')


# legend drawn in pixel-derived axes fraction
def axf(px, py):
    return ((px - 112) / 754.0, (473 - py) / 463.0)


lx0, ly0 = axf(754, 262)
lx1, ly1 = axf(854, 18)
ax.add_patch(Rectangle((lx0, ly0), lx1 - lx0, ly1 - ly0, transform=ax.transAxes, facecolor='white',
                       edgecolor=FRAME, lw=1.5, zorder=20))
seg = [62, 95.2, 128.4, 161.6, 194.8, 228]
for i, col in enumerate(legend_colors):
    bx0, by0 = axf(768, seg[i + 1])
    bx1, by1 = axf(791, seg[i])
    ax.add_patch(Rectangle((bx0, by0), bx1 - bx0, by1 - by0, transform=ax.transAxes, facecolor=col,
                           edgecolor=FRAME, lw=1.2, zorder=21))
for i, lab in enumerate(legend_labels):
    tx0, ty = axf(791, seg[i + 1])
    tx1, _ = axf(800, seg[i + 1])
    ax.plot([tx0, tx1], [ty, ty], transform=ax.transAxes, color=FRAME, lw=1.2, zorder=21)
    lx, _ = axf(805, 0)
    ax.text(lx, ty, lab, transform=ax.transAxes, ha='left', va='center', fontsize=16,
            color='#333333', zorder=22)
rx, ry = axf(804, 44)
ax.text(rx, ry, 'r$^{2}$', transform=ax.transAxes, ha='center', va='center', fontsize=17,
        color='#333333', zorder=22)

# ---- credible set panel ----
cx = fig.add_axes([fx(112), fy(545), fx(866) - fx(112), fy(497) - fy(545)])
cx.set_xlim(*XLIM)
cx.set_ylim(0, 1)
cx.set_xticks([])
cx.set_yticks([])
for s in cx.spines.values():
    s.set_color(FRAME)
    s.set_linewidth(1.3)
cx.scatter(credible_pos, [0.25] * len(credible_pos), s=125, c='#FF0000', edgecolors='none', zorder=3)
cmid = (min(credible_pos) + max(credible_pos)) / 2
cx.text(cmid, 0.62, credible_title, ha='center', va='center', fontsize=15, color='black')

# ---- gene panel ----
gx = fig.add_axes([fx(112), fy(890), fx(866) - fx(112), fy(553) - fy(890)])
gx.set_xlim(*XLIM)
gx.set_ylim(7.25, 0.275)
gx.set_yticks([])
gx.set_xticks(x_ticks)
gx.set_xticklabels(x_ticklabels)
gx.tick_params(axis='x', direction='out', length=8, width=1.2, color=FRAME,
               labelsize=15.5, labelcolor=TICKC, pad=23)
for s in gx.spines.values():
    s.set_color(FRAME)
    s.set_linewidth(1.3)
gx.set_xlabel('Position on chr22 (Mb)', fontsize=17.8, color='#555555', labelpad=5)

EXON_H = 0.22
name_texts = []
for name, st, en, strand, row, exons in zip(gene_names, gene_start, gene_end, gene_strand,
                                             gene_row, gene_exons):
    gx.plot([st, en], [row, row], color=NAVY, lw=1.5, solid_capstyle='butt', zorder=2)
    for e0, e1 in exons:
        gx.add_patch(Rectangle((e0, row - EXON_H / 2), e1 - e0, EXON_H, facecolor=NAVY,
                               edgecolor=NAVY, lw=1.3, zorder=3))
    t = gx.text((st + en) / 2, row - 0.33, name, ha='center', va='center', fontsize=14.5,
                style='italic', color='black', zorder=4)
    name_texts.append((t, st, en, strand, row))

# place name + strand arrow centred on the gene, kept inside the panel
fig.canvas.draw()
r = fig.canvas.get_renderer()
gbb = gx.get_window_extent(r)
span = XLIM[1] - XLIM[0]
ARROW_PX = 27


def px2data(px):
    return XLIM[0] + (px - gbb.x0) / gbb.width * span


for t, st, en, strand, row in name_texts:
    bb = t.get_window_extent(r)
    wn = bb.width
    total = wn + ARROW_PX
    mid_px = gbb.x0 + ((st + en) / 2 - XLIM[0]) / span * gbb.width
    left = mid_px - total / 2
    left = min(left, gbb.x1 - 5 - total)
    left = max(left, gbb.x0 + 7)
    ty = row - 0.33
    if strand == '+':
        t.set_position((px2data(left + wn / 2), ty))
        a0, a1 = left + wn + 1, left + total
    else:
        t.set_position((px2data(left + ARROW_PX + wn / 2), ty))
        a0, a1 = left + ARROW_PX - 1, left
    gx.annotate('', xy=(px2data(a1), ty + 0.02), xytext=(px2data(a0), ty + 0.02),
                arrowprops=dict(arrowstyle='->', lw=1.5, color='black', shrinkA=0, shrinkB=0,
                                mutation_scale=13))

fig.savefig('out.png', dpi=100)
